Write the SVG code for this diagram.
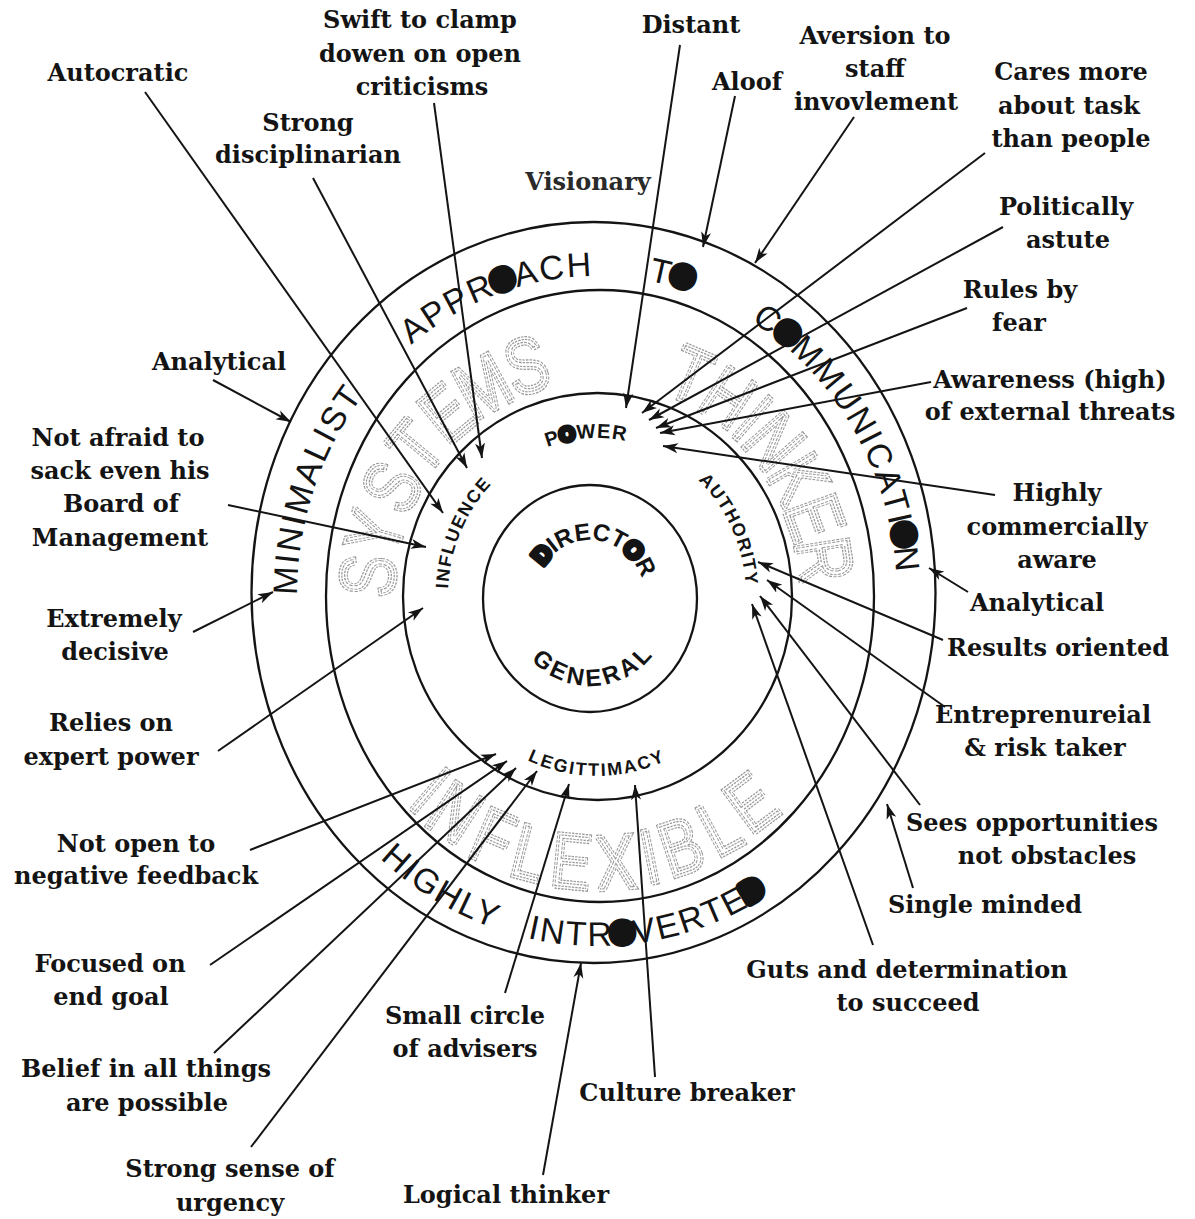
<svg xmlns="http://www.w3.org/2000/svg" width="1195" height="1219" viewBox="0 0 1195 1219">
<style>
  .lbl{font-family:'DejaVu Serif','Liberation Serif',serif;font-weight:bold;font-size:24px;fill:#141414;text-anchor:middle}
  .ring{fill:none;stroke:#141414;stroke-width:2.3}
  .band{font-family:'Liberation Sans',Arial,sans-serif;font-size:34px;letter-spacing:2px;fill:#141414;text-anchor:middle}
  .tag{font-family:'Liberation Sans',Arial,sans-serif;font-weight:bold;font-size:18px;letter-spacing:1.5px;fill:#141414;text-anchor:middle}
  .core{font-family:'Liberation Sans',Arial,sans-serif;font-weight:bold;font-size:24px;fill:#141414;text-anchor:middle}
  .blob{font-weight:bold;font-size:24px;stroke:#141414;stroke-width:11.5px;stroke-linejoin:round}
  .blob-s{stroke:#141414;stroke-width:5px;stroke-linejoin:round}
  .conn line{stroke:#141414;stroke-width:2px;marker-end:url(#ah)}
</style>
<defs>
  <marker id="ah" markerUnits="userSpaceOnUse" markerWidth="16" markerHeight="12" refX="15" refY="6" orient="auto">
    <path d="M0,1 L15,6 L0,11 L4,6 z" fill="#141414"/>
  </marker>
  <!-- baselines for curved lettering: clockwise paths start at the bottom, anticlockwise at the top -->
  <path id="pOuterCw" d="M597,916 A300,320 0 1 1 597,276 A300,320 0 1 1 597,916"/>
  <path id="pOuterCcw" d="M597,246 A328,350 0 1 0 597,946 A328,350 0 1 0 597,246"/>
  <path id="pMidCw" d="M597,754 A149,158 0 1 1 597,438 A149,158 0 1 1 597,754"/>
  <path id="pMidCcw" d="M597,416 A170,180 0 1 0 597,776 A170,180 0 1 0 597,416"/>
  <path id="pCoreCw" d="M590,656 A55,58 0 1 1 590,540 A55,58 0 1 1 590,656"/>
  <path id="pCoreCcw" d="M590,510 A83,88 0 1 0 590,686 A83,88 0 1 0 590,510"/>
  <!-- large hollow lettering, placed letter by letter around the second band -->
  <g id="bigWords" font-family="'Liberation Sans',Arial,sans-serif" font-size="78" text-anchor="middle">
    <text transform="translate(394.7,578.3) rotate(-85) scale(0.78,1)">S</text>
    <text transform="translate(401.1,539.8) rotate(-74) scale(0.78,1)">Y</text>
    <text transform="translate(415.6,499.5) rotate(-62) scale(0.78,1)">S</text>
    <text transform="translate(436.8,463.9) rotate(-50.5) scale(0.78,1)">T</text>
    <text transform="translate(463.5,434.0) rotate(-39.5) scale(0.78,1)">E</text>
    <text transform="translate(495.8,409.6) rotate(-28.5) scale(0.78,1)">M</text>
    <text transform="translate(534.5,391.4) rotate(-17) scale(0.78,1)">S</text>
    <text transform="translate(680.2,399.9) rotate(23) scale(0.78,1)">T</text>
    <text transform="translate(713.2,419.8) rotate(33.4) scale(0.78,1)">H</text>
    <text transform="translate(735.0,438.4) rotate(41.2) scale(0.78,1)">I</text>
    <text transform="translate(753.9,459.6) rotate(49) scale(0.78,1)">N</text>
    <text transform="translate(774.9,492.5) rotate(59.8) scale(0.78,1)">K</text>
    <text transform="translate(789.2,526.8) rotate(70.2) scale(0.78,1)">E</text>
    <text transform="translate(797.8,564.2) rotate(81) scale(0.78,1)">R</text>
    <text transform="translate(412.8,810.9) rotate(40.6) scale(0.78,1)">I</text>
    <text transform="translate(440.3,835.4) rotate(33.2) scale(0.78,1)">N</text>
    <text transform="translate(482.6,862.3) rotate(23.25) scale(0.78,1)">F</text>
    <text transform="translate(523.3,878.9) rotate(14.6) scale(0.78,1)">L</text>
    <text transform="translate(568.9,888.3) rotate(5.5) scale(0.78,1)">E</text>
    <text transform="translate(617.5,889.2) rotate(-4) scale(0.78,1)">X</text>
    <text transform="translate(655.4,883.0) rotate(-11.5) scale(0.78,1)">I</text>
    <text transform="translate(689.4,872.2) rotate(-18.5) scale(0.78,1)">B</text>
    <text transform="translate(732.3,850.5) rotate(-28) scale(0.78,1)">L</text>
    <text transform="translate(767.1,824.3) rotate(-36.7) scale(0.78,1)">E</text>
  </g>
</defs>

<rect width="1195" height="1219" fill="#fff"/>

<!-- hollow dashed lettering: grey outline, then a white core to split it into a double line -->
<g id="hollow-lettering">
  <use href="#bigWords" fill="none" stroke="#9a9a9a" stroke-width="4" stroke-dasharray="3 1.4"/>
  <use href="#bigWords" fill="none" stroke="#fff" stroke-width="1.4"/>
</g>

<!-- concentric rings -->
<g id="rings">
  <ellipse class="ring" cx="593.5" cy="592.5" rx="342" ry="370.5"/>
  <ellipse class="ring" cx="600" cy="596" rx="274" ry="306"/>
  <ellipse class="ring" cx="597.5" cy="596.5" rx="194.5" ry="203.5"/>
  <ellipse class="ring" cx="590" cy="598.5" rx="107" ry="113.5"/>
</g>

<!-- outer band lettering -->
<g id="outer-band">
  <text class="band"><textPath href="#pOuterCw" startOffset="30.56%">MINIMALIST</textPath></text>
  <text class="band"><textPath href="#pOuterCw" startOffset="44.72%">APPR<tspan class="blob" baseline-shift="4">O</tspan>ACH</textPath></text>
  <text class="band"><textPath href="#pOuterCw" startOffset="53.75%">T<tspan class="blob" baseline-shift="4">O</tspan></textPath></text>
  <text class="band"><textPath href="#pOuterCw" startOffset="66.11%">C<tspan class="blob" baseline-shift="4">O</tspan>MMUNICATI<tspan class="blob" baseline-shift="4">O</tspan>N</textPath></text>
  <text class="band"><textPath href="#pOuterCcw" startOffset="41.94%">HIGHLY</textPath></text>
  <text class="band"><textPath href="#pOuterCcw" startOffset="52.57%">INTR<tspan class="blob" baseline-shift="4">O</tspan>VERTE<tspan class="blob" baseline-shift="4">D</tspan></textPath></text>
</g>

<!-- third band: sources of control -->
<g id="node-influence"><text class="tag"><textPath href="#pMidCw" startOffset="31.8%">INFLUENCE</textPath></text></g>
<g id="node-power"><text class="tag" style="font-size:20px;letter-spacing:1px"><textPath href="#pMidCw" startOffset="48.9%">P<tspan class="blob-s">O</tspan>WER</textPath></text></g>
<g id="node-authority"><text class="tag"><textPath href="#pMidCw" startOffset="67.8%">AUTHORITY</textPath></text></g>
<g id="node-legitimacy"><text class="tag" style="letter-spacing:2px"><textPath href="#pMidCcw" startOffset="50%">LEGITTIMACY</textPath></text></g>

<!-- core -->
<g id="node-director-general">
  <text class="core"><textPath href="#pCoreCw" startOffset="51.8%"><tspan class="blob-s">D</tspan>IRECT<tspan class="blob-s">O</tspan>R</textPath></text>
  <text class="core" style="letter-spacing:3.4px"><textPath href="#pCoreCcw" startOffset="50.83%">GENERAL</textPath></text>
</g>

<!-- connectors -->
<g id="connectors" class="conn">
  <line x1="145" y1="92" x2="443" y2="513"/>
  <line x1="313" y1="178" x2="467" y2="468"/>
  <line x1="434" y1="103" x2="482" y2="458"/>
  <line x1="680" y1="45" x2="626" y2="408"/>
  <line x1="735" y1="96" x2="703" y2="247"/>
  <line x1="854" y1="117" x2="755" y2="263"/>
  <line x1="985" y1="153" x2="642" y2="413"/>
  <line x1="1003" y1="227" x2="649" y2="420"/>
  <line x1="967" y1="308" x2="656" y2="428"/>
  <line x1="931" y1="382" x2="660" y2="433"/>
  <line x1="995" y1="495" x2="663" y2="446"/>
  <line x1="968" y1="592" x2="929" y2="568"/>
  <line x1="943" y1="640" x2="758" y2="562"/>
  <line x1="945" y1="707" x2="767" y2="580"/>
  <line x1="920" y1="805" x2="760" y2="596"/>
  <line x1="913" y1="888" x2="887" y2="804"/>
  <line x1="873" y1="945" x2="752" y2="604"/>
  <line x1="655" y1="1077" x2="635" y2="785"/>
  <line x1="543" y1="1175" x2="581" y2="963"/>
  <line x1="505" y1="993" x2="569" y2="784"/>
  <line x1="251" y1="1147" x2="537" y2="771"/>
  <line x1="214" y1="1053" x2="516" y2="768"/>
  <line x1="210" y1="965" x2="507" y2="761"/>
  <line x1="250" y1="850" x2="496" y2="754"/>
  <line x1="218" y1="751" x2="423" y2="608"/>
  <line x1="193" y1="632" x2="273" y2="592"/>
  <line x1="228" y1="505" x2="426" y2="547"/>
  <line x1="213" y1="380" x2="291" y2="422"/>
</g>

<!-- trait labels -->
<g id="lbl-autocratic"><text class="lbl" x="118" y="81">Autocratic</text></g>
<g id="lbl-disciplinarian"><text class="lbl" x="308" y="131">Strong</text><text class="lbl" x="308" y="163">disciplinarian</text></g>
<g id="lbl-swift"><text class="lbl" x="420" y="28">Swift to clamp</text><text class="lbl" x="420" y="62">dowen on open</text><text class="lbl" x="422" y="95">criticisms</text></g>
<g id="lbl-visionary"><text class="lbl" x="588" y="190" style="fill:#2a2a2a">Visionary</text></g>
<g id="lbl-distant"><text class="lbl" x="691" y="33">Distant</text></g>
<g id="lbl-aloof"><text class="lbl" x="747" y="90">Aloof</text></g>
<g id="lbl-aversion"><text class="lbl" x="875" y="44">Aversion to</text><text class="lbl" x="875" y="77">staff</text><text class="lbl" x="876" y="110">invovlement</text></g>
<g id="lbl-cares"><text class="lbl" x="1071" y="80">Cares more</text><text class="lbl" x="1069" y="114">about task</text><text class="lbl" x="1071" y="147">than people</text></g>
<g id="lbl-political"><text class="lbl" x="1066" y="215">Politically</text><text class="lbl" x="1068" y="248">astute</text></g>
<g id="lbl-fear"><text class="lbl" x="1020" y="298">Rules by</text><text class="lbl" x="1019" y="331">fear</text></g>
<g id="lbl-awareness"><text class="lbl" x="1050" y="388">Awareness (high)</text><text class="lbl" x="1050" y="420">of external threats</text></g>
<g id="lbl-commercial"><text class="lbl" x="1057" y="501">Highly</text><text class="lbl" x="1057" y="535">commercially</text><text class="lbl" x="1057" y="568">aware</text></g>
<g id="lbl-analytical-r"><text class="lbl" x="1037" y="611">Analytical</text></g>
<g id="lbl-results"><text class="lbl" x="1058" y="656">Results oriented</text></g>
<g id="lbl-entrepreneur"><text class="lbl" x="1043" y="723">Entreprenureial</text><text class="lbl" x="1045" y="756">&amp; risk taker</text></g>
<g id="lbl-opportunities"><text class="lbl" x="1032" y="831">Sees opportunities</text><text class="lbl" x="1047" y="864">not obstacles</text></g>
<g id="lbl-single"><text class="lbl" x="985" y="913">Single minded</text></g>
<g id="lbl-guts"><text class="lbl" x="907" y="978">Guts and determination</text><text class="lbl" x="908" y="1011">to succeed</text></g>
<g id="lbl-culture"><text class="lbl" x="687" y="1101">Culture breaker</text></g>
<g id="lbl-logical"><text class="lbl" x="506" y="1203">Logical thinker</text></g>
<g id="lbl-advisers"><text class="lbl" x="465" y="1024">Small circle</text><text class="lbl" x="465" y="1057">of advisers</text></g>
<g id="lbl-urgency"><text class="lbl" x="230" y="1177">Strong sense of</text><text class="lbl" x="230" y="1211">urgency</text></g>
<g id="lbl-belief"><text class="lbl" x="146" y="1077">Belief in all things</text><text class="lbl" x="147" y="1111">are possible</text></g>
<g id="lbl-focused"><text class="lbl" x="110" y="972">Focused on</text><text class="lbl" x="111" y="1005">end goal</text></g>
<g id="lbl-feedback"><text class="lbl" x="136" y="852">Not open to</text><text class="lbl" x="136" y="884">negative feedback</text></g>
<g id="lbl-expert"><text class="lbl" x="111" y="731">Relies on</text><text class="lbl" x="111" y="765">expert power</text></g>
<g id="lbl-decisive"><text class="lbl" x="114" y="627">Extremely</text><text class="lbl" x="115" y="660">decisive</text></g>
<g id="lbl-sack"><text class="lbl" x="118" y="446">Not afraid to</text><text class="lbl" x="120" y="479">sack even his</text><text class="lbl" x="121" y="512">Board of</text><text class="lbl" x="120" y="546">Management</text></g>
<g id="lbl-analytical-l"><text class="lbl" x="219" y="370">Analytical</text></g>
</svg>
